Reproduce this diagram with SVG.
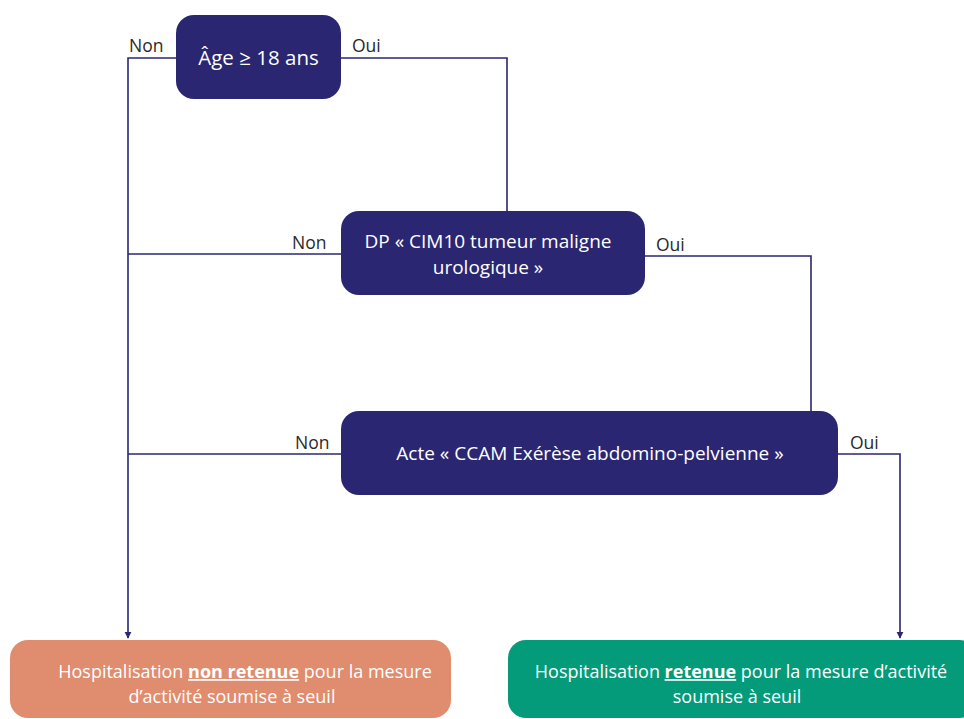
<svg xmlns="http://www.w3.org/2000/svg" width="964" height="719" viewBox="0 0 964 719">
<defs>
<style>
.dec{fill:#2b2671}
.t{font-family:"Open Sans","Liberation Sans",sans-serif;font-size:18px;fill:#ffffff;text-anchor:middle}
.a{font-size:19px}
.lbl{font-family:"Open Sans","Liberation Sans",sans-serif;font-size:17.5px;fill:#2a2a2a}
.c{fill:none;stroke:#2b2671;stroke-width:1.6}
</style>
<marker id="ah" viewBox="0 0 10 10" refX="9" refY="5" markerWidth="7" markerHeight="9" markerUnits="userSpaceOnUse" orient="auto">
<path d="M0,0 L10,5 L0,10 z" fill="#2b2671"/>
</marker>
</defs>
<rect width="964" height="719" fill="#ffffff"/>
<g id="connectors">
<path class="c" d="M176,58 H128 V638" marker-end="url(#ah)"/>
<path class="c" d="M341,58 H507 V211"/>
<path class="c" d="M341,254 H128"/>
<path class="c" d="M645,256 H811 V411"/>
<path class="c" d="M341,454 H128"/>
<path class="c" d="M838,454 H900 V638" marker-end="url(#ah)"/>
</g>
<g id="lbls">
<text class="lbl" x="129" y="52">Non</text>
<text class="lbl" x="352" y="52">Oui</text>
<text class="lbl" x="292" y="249">Non</text>
<text class="lbl" x="656" y="251">Oui</text>
<text class="lbl" x="295" y="449">Non</text>
<text class="lbl" x="850" y="449">Oui</text>
</g>
<g id="n1">
<rect class="dec" x="176" y="15" width="165" height="84" rx="18"/>
<text class="t" x="258.5" y="65" style="font-size:20.5px">Âge ≥ 18 ans</text>
</g>
<g id="n2">
<rect class="dec" x="341" y="211" width="304" height="84" rx="18"/>
<text class="t a" x="488" y="248">DP « CIM10 tumeur maligne</text>
<text class="t a" x="488" y="274">urologique »</text>
</g>
<g id="n3">
<rect class="dec" x="341" y="411" width="497" height="84" rx="18"/>
<text class="t a" x="590" y="460">Acte « CCAM Exérèse abdomino-pelvienne »</text>
</g>
<g id="n4">
<rect x="10" y="640" width="441" height="78" rx="18" fill="#e08c6e"/>
<text class="t" x="245" y="678">Hospitalisation <tspan font-weight="bold" text-decoration="underline">non retenue</tspan> pour la mesure</text>
<text class="t" x="232" y="703">d’activité soumise à seuil</text>
</g>
<g id="n5">
<rect x="508" y="640" width="470" height="78" rx="18" fill="#049b7a"/>
<text class="t" x="741" y="678">Hospitalisation <tspan font-weight="bold" text-decoration="underline">retenue</tspan> pour la mesure d’activité</text>
<text class="t" x="737" y="703">soumise à seuil</text>
</g>
</svg>
